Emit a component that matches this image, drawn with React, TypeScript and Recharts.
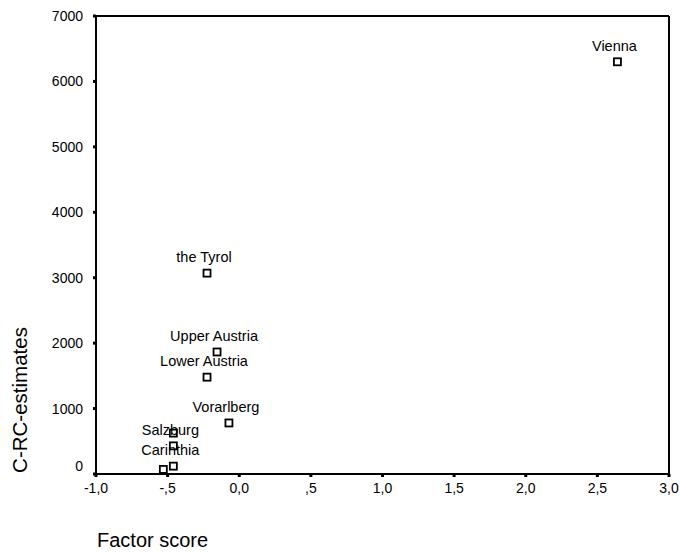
import { ScatterChart, Scatter, XAxis, YAxis, Label, ReferenceLine } from 'recharts'

// ─── Data ─────────────────────────────────────────────────────────────────────
const regions = ['Vienna', 'the Tyrol', 'Upper Austria', 'Lower Austria', 'Vorarlberg', '', 'Salzburg', 'Carinthia', '']
const factorScores = [2.64, -0.225, -0.155, -0.225, -0.072, -0.46, -0.46, -0.46, -0.53]
const estimates = [6300, 3070, 1865, 1480, 780, 625, 430, 120, 70]

const xTicks = [-1, -0.5, 0, 0.5, 1, 1.5, 2, 2.5, 3]
const yTicks = [0, 1000, 2000, 3000, 4000, 5000, 6000, 7000]

const points = regions.map((name, i) => ({ name, x: factorScores[i], y: estimates[i] }))

const FONT = 'Liberation Sans, Arial, sans-serif'

// SPSS style: ",5" instead of "0.5", comma decimals
const fmtX = (v: number) => {
  const s = v.toFixed(1).replace('.', ',')
  if (s.startsWith('0,') && v !== 0) return s.slice(1)
  if (s.startsWith('-0,')) return '-' + s.slice(2)
  return s
}

// hollow square + its name above it
const SquareMarker = (props: any) => {
  const { cx, cy } = props
  if (cx == null || cy == null) return null
  const name = props.payload?.name ?? props.name
  return (
    <g>
      <rect x={cx - 3.5} y={cy - 3.5} width={7} height={7} fill="#fff" stroke="#000" strokeWidth={1.8} />
      {name ? (
        <text x={cx - 3} y={cy - 11} textAnchor="middle" fontSize={14.5} fontFamily={FONT} fill="#000">
          {name}
        </text>
      ) : null}
    </g>
  )
}

const YTick = (props: any) => {
  const { x, y, payload } = props
  const dy = payload.value === 0 ? -8 : 0
  return (
    <text x={x} y={y + dy} dy={5} textAnchor="end" fontSize={14} fontFamily={FONT} fill="#000">
      {payload.value}
    </text>
  )
}

export default function App() {
  // pinned to the page corner so body margin / scrollbars don't clip the edges
  return (
    <div style={{ position: 'absolute', left: 0, top: 0, width: 680, height: 552 }}>
      <ScatterChart width={680} height={552} margin={{ top: 16, right: 11, left: 8, bottom: 48 }}>
        <XAxis
          type="number"
          dataKey="x"
          domain={[-1, 3]}
          ticks={xTicks}
          tickFormatter={fmtX}
          height={30}
          axisLine={{ stroke: '#000', strokeWidth: 2 }}
          tickLine={{ stroke: '#000', strokeWidth: 3 }}
          tickSize={3}
          tickMargin={6}
          tick={{ fill: '#000', fontSize: 14, fontFamily: FONT }}
          interval={0}
        >
          <Label
            content={() => (
              <text x={97} y={547} fontSize={20} fontFamily={FONT} fill="#000">Factor score</text>
            )}
          />
        </XAxis>
        <YAxis
          type="number"
          dataKey="y"
          domain={[0, 7000]}
          ticks={yTicks}
          width={88}
          axisLine={{ stroke: '#000', strokeWidth: 2 }}
          tickLine={{ stroke: '#000', strokeWidth: 3 }}
          tickSize={3}
          tickMargin={10}
          tick={<YTick />}
          interval={0}
        >
          <Label
            content={() => (
              <text
                x={27}
                y={400}
                transform="rotate(-90 27 400)"
                textAnchor="middle"
                fontSize={20.5}
                fontFamily={FONT}
                fill="#000"
              >
                C-RC-estimates
              </text>
            )}
          />
        </YAxis>
        {/* top and right frame */}
        <ReferenceLine y={7000} stroke="#000" strokeWidth={2} />
        <ReferenceLine x={3} stroke="#000" strokeWidth={2} />
        <Scatter data={points} shape={<SquareMarker />} isAnimationActive={false} />
      </ScatterChart>
    </div>
  )
}
